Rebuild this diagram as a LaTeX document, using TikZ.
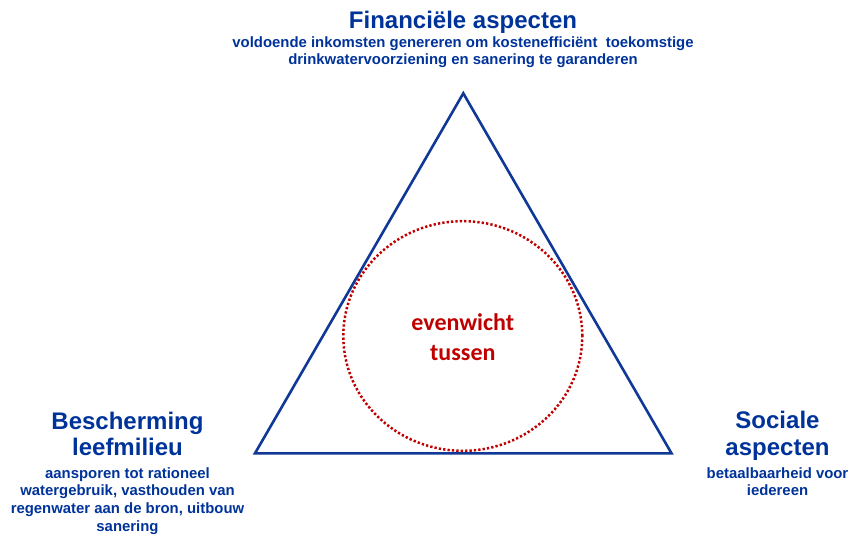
\documentclass[tikz,border=0pt]{standalone}
\usepackage{fontspec}
\setmainfont{Liberation Sans}
\newfontfamily\calfont{Carlito}
\begin{document}
\begin{tikzpicture}[x=1pt,y=-1pt,
  heading/.style={anchor=base,inner sep=0pt,text=deepblue,font=\fontsize{24}{27}\selectfont\bfseries},
  subline/.style={anchor=base,inner sep=0pt,text=deepblue,font=\fontsize{14.9}{17.5}\selectfont\bfseries},
  midtext/.style={anchor=base,inner sep=0pt,text=darkred,font=\calfont\fontsize{24}{29}\selectfont\bfseries},
  frame/.style={draw=lineblue,line width=2.6pt,line join=miter},
  balance/.style={draw=darkred,line width=2.5pt,dash pattern=on 2.3pt off 2.1pt}]
\definecolor{deepblue}{RGB}{0,51,153}
\definecolor{lineblue}{RGB}{16,56,150}
\definecolor{darkred}{RGB}{192,0,0}
\useasboundingbox (0,0) rectangle (849,535);

% triangle corners
\coordinate (apex) at (463.3,93.3);
\coordinate (bl) at (255,453.3);
\coordinate (br) at (671.5,453.3);
\draw[frame] (apex) -- (bl) -- (br) -- cycle;

% dotted balance circle
\coordinate (mid) at (462.8,336);
\draw[balance] (mid) ellipse [x radius=119.5pt, y radius=114.8pt];
\node[midtext] (mid1) at (462.8,330.7) {evenwicht};
\node[midtext] (mid2) at (462.8,360) {tussen};

% top corner: financial aspects
\node[heading] (fin) at (463,29) {Financiële aspecten};
\node[subline] (fin1) at (463,47.3) {voldoende inkomsten genereren om kostenefficiënt\ \ toekomstige};
\node[subline] (fin2) at (463,64.5) {drinkwatervoorziening en sanering te garanderen};

% left corner: environment
\node[heading] (env1) at (127.5,429.3) {Bescherming};
\node[heading] (env2) at (127.5,455.8) {leefmilieu};
\node[subline] (envs1) at (127.5,478) {aansporen tot rationeel};
\node[subline] (envs2) at (127.5,495.7) {watergebruik, vasthouden van};
\node[subline] (envs3) at (127.5,513.3) {regenwater aan de bron, uitbouw};
\node[subline] (envs4) at (127.5,531) {sanering};

% right corner: social aspects
\node[heading] (soc1) at (777.5,428.5) {Sociale};
\node[heading] (soc2) at (777.5,455) {aspecten};
\node[subline] (socs1) at (777.5,478) {betaalbaarheid voor};
\node[subline] (socs2) at (777.5,495.7) {iedereen};
\end{tikzpicture}
\end{document}
